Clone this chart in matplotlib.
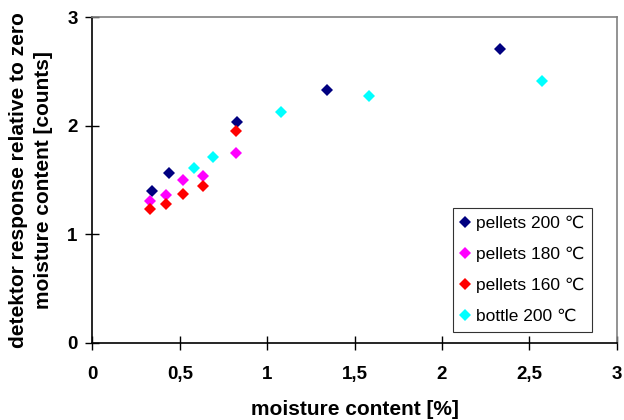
import matplotlib
matplotlib.use("Agg")
import matplotlib.pyplot as plt

# data
x_p200 = [0.34, 0.44, 0.83, 1.34, 2.33]
y_p200 = [1.40, 1.56, 2.03, 2.33, 2.71]

x_p180 = [0.33, 0.42, 0.52, 0.63, 0.82]
y_p180 = [1.31, 1.36, 1.50, 1.54, 1.75]

x_p160 = [0.33, 0.42, 0.52, 0.63, 0.82]
y_p160 = [1.23, 1.28, 1.37, 1.44, 1.95]

x_bottle = [0.58, 0.69, 1.08, 1.58, 2.57]
y_bottle = [1.61, 1.71, 2.13, 2.27, 2.41]

labels = ["pellets 200 \u2103", "pellets 180 \u2103", "pellets 160 \u2103", "bottle 200 \u2103"]
colors = ["#000080", "#FF00FF", "#FF0000", "#00FFFF"]

x_ticks = [0, 0.5, 1, 1.5, 2, 2.5, 3]
x_ticklabels = ["0", "0,5", "1", "1,5", "2", "2,5", "3"]
y_ticks = [0, 1, 2, 3]

plt.rcParams["font.family"] = ["Liberation Sans", "DejaVu Sans"]

fig = plt.figure(figsize=(6.24, 4.2), dpi=100)
ax = fig.add_axes([0.1482, 0.184, 0.840, 0.775])

series = [(x_p200, y_p200), (x_p180, y_p180), (x_p160, y_p160), (x_bottle, y_bottle)]
for (xs, ys), lab, col in zip(series, labels, colors):
    ax.plot(xs, ys, linestyle="none", marker="D", markersize=6.5,
            color=col, markeredgewidth=0, label=lab)

ax.set_xlim(0, 3)
ax.set_ylim(0, 3)
ax.set_xticks(x_ticks, x_ticklabels)
ax.set_yticks(y_ticks)
ax.tick_params(direction="inout", length=9.5, width=1, labelsize=13.5)
ax.tick_params(axis="x", pad=12)
ax.tick_params(axis="y", pad=6)
for lab in ax.get_xticklabels() + ax.get_yticklabels():
    lab.set_fontweight("bold")

for side in ["left", "bottom"]:
    ax.spines[side].set_color("black")
    ax.spines[side].set_linewidth(1.2)
for side in ["top", "right"]:
    ax.spines[side].set_color("#808080")
    ax.spines[side].set_linewidth(1.2)

ax.set_xlabel("moisture content [%]", fontsize=15, fontweight="bold", labelpad=12)
ax.set_ylabel("detektor response relative to zero\nmoisture content [counts]",
              fontsize=15, fontweight="bold", labelpad=10, linespacing=1.4)

leg = ax.legend(loc="lower right", bbox_to_anchor=(0.953, 0.033), fontsize=12.5,
                frameon=True, fancybox=False, handlelength=0.5, handletextpad=0.35,
                labelspacing=0.9, borderpad=0.45, borderaxespad=0, numpoints=1)
leg.get_frame().set_edgecolor("black")
leg.get_frame().set_linewidth(0.8)

fig.savefig("out.png", dpi=100)
